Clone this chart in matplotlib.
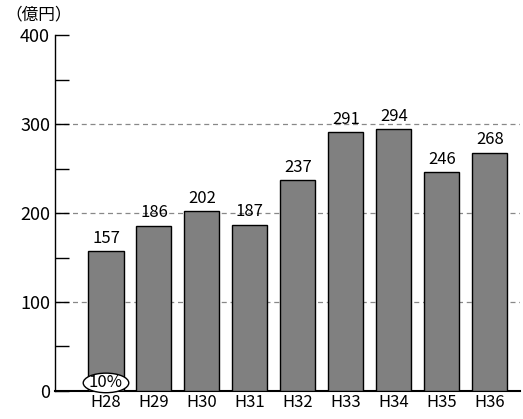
import matplotlib.pyplot as plt
from matplotlib.patches import Ellipse

plt.rcParams['font.family'] = ['Noto Sans CJK JP', 'DejaVu Sans']

years = ["H28", "H29", "H30", "H31", "H32", "H33", "H34", "H35", "H36"]
values = [157, 186, 202, 187, 237, 291, 294, 246, 268]

fig = plt.figure(figsize=(5.23, 4.19), dpi=100)
ax = fig.add_axes([0.105, 0.067, 0.89, 0.849])
x = range(len(years))
ax.bar(x, values, width=0.73, color="#808080", edgecolor="black", linewidth=1, zorder=3)
for i, v in zip(x, values):
    ax.text(i, v + 5, str(v), ha="center", va="bottom", fontsize=12, zorder=4)

for y in (100, 200, 300):
    ax.axhline(y, color="#888888", linestyle=(0, (4, 3)), linewidth=0.9, zorder=1)

ax.set_xlim(-1.065, 8.64)
ax.set_ylim(0, 400)
ax.set_yticks(range(0, 401, 100))
ax.set_yticks(range(50, 400, 100), minor=True)
ax.tick_params(axis="y", which="both", direction="in", length=10, width=1, labelsize=13)
ax.set_xticks(list(x))
ax.set_xticklabels(years, fontsize=12)
ax.tick_params(axis="x", length=0, pad=2)
for s in ("top", "right"):
    ax.spines[s].set_visible(False)
ax.spines["left"].set_linewidth(1)
ax.spines["bottom"].set_linewidth(1.5)

ax.add_patch(Ellipse((0, 9), 0.95, 22, facecolor="white", edgecolor="black", linewidth=1, zorder=5, clip_on=False))
ax.text(0, 9, "10%", ha="center", va="center", fontsize=12, zorder=6)

fig.text(0.01, 0.965, "（億円）", fontsize=12, ha="left", va="center")
fig.savefig("out.png")
